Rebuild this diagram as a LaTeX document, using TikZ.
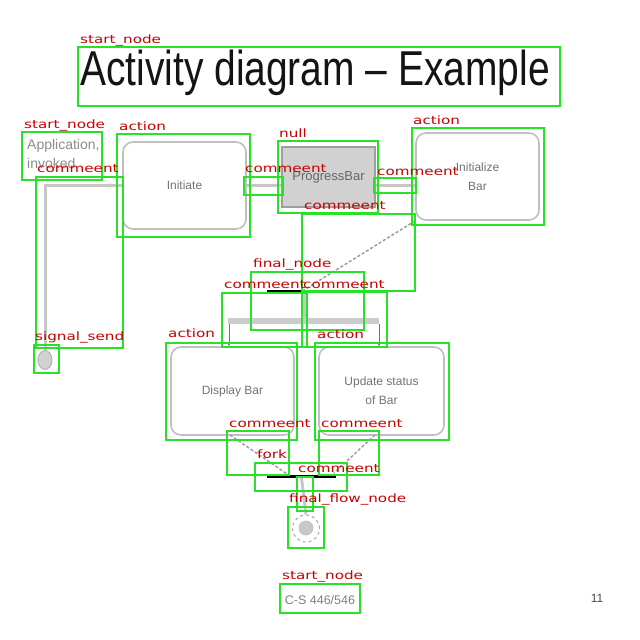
\documentclass[tikz,border=0pt]{standalone}
\usepackage{fontspec}
\setmainfont{Liberation Sans}
\newfontfamily\labfont[FakeStretch=1.32]{DejaVu Sans}
\newfontfamily\titlefont[FakeStretch=0.795]{Liberation Sans}
\usetikzlibrary{shapes.geometric,arrows.meta,calc}
\definecolor{annG}{RGB}{40,225,40}
\definecolor{annR}{RGB}{200,0,0}
\tikzset{
  annbox/.style={draw=annG, line width=2.6pt},
  annlab/.style={text=annR, font=\labfont\fontsize{11.5}{11.5}\selectfont, anchor=base west, inner sep=0pt},
  rbox/.style={draw=black!25, line width=1.6pt, rounded corners=10pt, fill=white, text=black!55,
    font=\fontsize{12}{19}\selectfont, align=center, inner sep=0pt},
  objbox/.style={draw=black!38, line width=1.6pt, fill=black!18, text=black!60,
    font=\fontsize{13}{15}\selectfont, inner sep=0pt},
  flow/.style={draw=black!22, line width=3pt},
  dotline/.style={draw=black!38, line width=1.5pt, dash pattern=on 3pt off 2pt},
  arr/.style={draw=black!55, line width=0.8pt, -{Stealth[length=3pt,width=3pt]}},
  gtext/.style={text=black!50, inner sep=0pt}
}
\begin{document}
\begin{tikzpicture}[x=1pt,y=-1pt]
\useasboundingbox (0,0) rectangle (640,640);
\fill[white] (0,0) rectangle (640,640);

% ---------- underlying diagram ----------
\node[anchor=base west, inner sep=0pt, font=\titlefont\fontsize{49}{49}\selectfont, text=black!92] (title) at (80,85) {Activity diagram – Example};

\node[anchor=north west, inner sep=0pt, align=left, text=black!45, font=\fontsize{14}{19}\selectfont] (app) at (27,139) {Application,\\invoked};

\node[rbox, minimum width=123, minimum height=87] (init) at (184.5,185.5) {Initiate};
\node[objbox, minimum width=93, minimum height=60] (prog) at (328.5,177) {ProgressBar};
\node[rbox, minimum width=123, minimum height=87] (initb) at (477.5,176.5) {Initialize\\Bar};
\node[rbox, minimum width=123, minimum height=88] (disp) at (232.5,391) {Display Bar};
\node[rbox, minimum width=125, minimum height=88] (upd) at (381.5,391) {Update status\\of Bar};

\node[fill=black!20, inner sep=0pt, minimum width=151, minimum height=6] (forkbar) at (303.5,321) {};
\node[fill=black, inner sep=0pt, minimum width=69, minimum height=2.4] (join) at (301.5,476.5) {};

\node[ellipse, fill=black!18, draw=black!30, line width=1pt, minimum width=14, minimum height=19, inner sep=0pt] (start) at (45,360) {};
\node[circle, fill=black!22, minimum size=15, inner sep=0pt] (final) at (306,528) {};
\node[circle, draw=black!35, dashed, line width=1pt, minimum size=27, inner sep=0pt] (finalring) at (306,528.5) {};

\node[gtext, font=\fontsize{12.5}{14}\selectfont] (cs) at (320,600) {C-S 446/546};
\node[text=black!70, inner sep=0pt, font=\fontsize{12}{14}\selectfont] (pg) at (597,598) {11};

% connectors
\draw[flow] (start.north) |- (init.west);
\draw[flow] (init.east) -- (init.east -| prog.west);
\draw[flow] (prog.east |- init.east) -- (initb.west |- init.east);
\coordinate (m1) at (304,290);
\draw[dotline] (initb.south west) -- (m1);
\draw[flow] (m1) -- (m1 |- forkbar.north);
\coordinate (f1) at (229,324);
\coordinate (f2) at (379,324);
\draw[arr] (f1) -- (f1 |- disp.north);
\draw[arr] (f2) -- (f2 |- upd.north);
\coordinate (d1) at (230,435);
\coordinate (u1) at (375,435);
\coordinate (j1) at (287,474);
\coordinate (j2) at (334,473);
\draw[dotline] (d1) -- (j1);
\draw[dotline] (u1) -- (j2);
\draw[flow] (join.south) -- (finalring.north);
\coordinate (b1) at (267,291);
\coordinate (b2) at (302,291);
\draw[black, line width=1.2pt] (b1) -- (b2);

% ---------- annotation boxes ----------
\draw[annbox] (78,47) rectangle (560,106);
\draw[annbox] (22,132) rectangle (102,180);
\draw[annbox] (117,134) rectangle (250,237);
\draw[annbox] (278,141) rectangle (378,213);
\draw[annbox] (412,128) rectangle (544,225);
\draw[annbox] (36,177) rectangle (123,348);
\draw[annbox] (244,177) rectangle (283,195);
\draw[annbox] (374,178) rectangle (416,193);
\draw[annbox] (302,214) rectangle (415,291);
\draw[annbox] (251,272) rectangle (364,330);
\draw[annbox] (222,293) rectangle (307,347);
\draw[annbox] (302,292) rectangle (387,347);
\draw[annbox] (34,345) rectangle (59,373);
\draw[annbox] (166,343) rectangle (297,440);
\draw[annbox] (315,343) rectangle (449,440);
\draw[annbox] (227,431) rectangle (289,475);
\draw[annbox] (319,431) rectangle (379,475);
\draw[annbox] (255,463) rectangle (347,491);
\draw[annbox] (297,477) rectangle (313,511);
\draw[annbox] (288,507) rectangle (324,548);
\draw[annbox] (280,584) rectangle (360,613);

% ---------- annotation labels ----------
\node[annlab] (l1) at (80,43) {start\_node};
\node[annlab] (l2) at (24,128) {start\_node};
\node[annlab] (l3) at (119,130) {action};
\node[annlab] (l4) at (279,137) {null};
\node[annlab] (l5) at (413,124) {action};
\node[annlab] (l6) at (37,172) {commeent};
\node[annlab] (l7) at (245,172) {commeent};
\node[annlab] (l8) at (377,175) {commeent};
\node[annlab] (l9) at (304,209) {commeent};
\node[annlab] (l10) at (253,267) {final\_node};
\node[annlab] (l11) at (224,288) {commeent};
\node[annlab] (l12) at (303,288) {commeent};
\node[annlab] (l13) at (35,340) {signal\_send};
\node[annlab] (l14) at (168,337) {action};
\node[annlab] (l15) at (317,338) {action};
\node[annlab] (l16) at (229,427) {commeent};
\node[annlab] (l17) at (321,427) {commeent};
\node[annlab] (l18) at (257,458) {fork};
\node[annlab] (l19) at (298,472) {commeent};
\node[annlab] (l20) at (289,502) {final\_flow\_node};
\node[annlab] (l21) at (282,579) {start\_node};
\end{tikzpicture}
\end{document}
